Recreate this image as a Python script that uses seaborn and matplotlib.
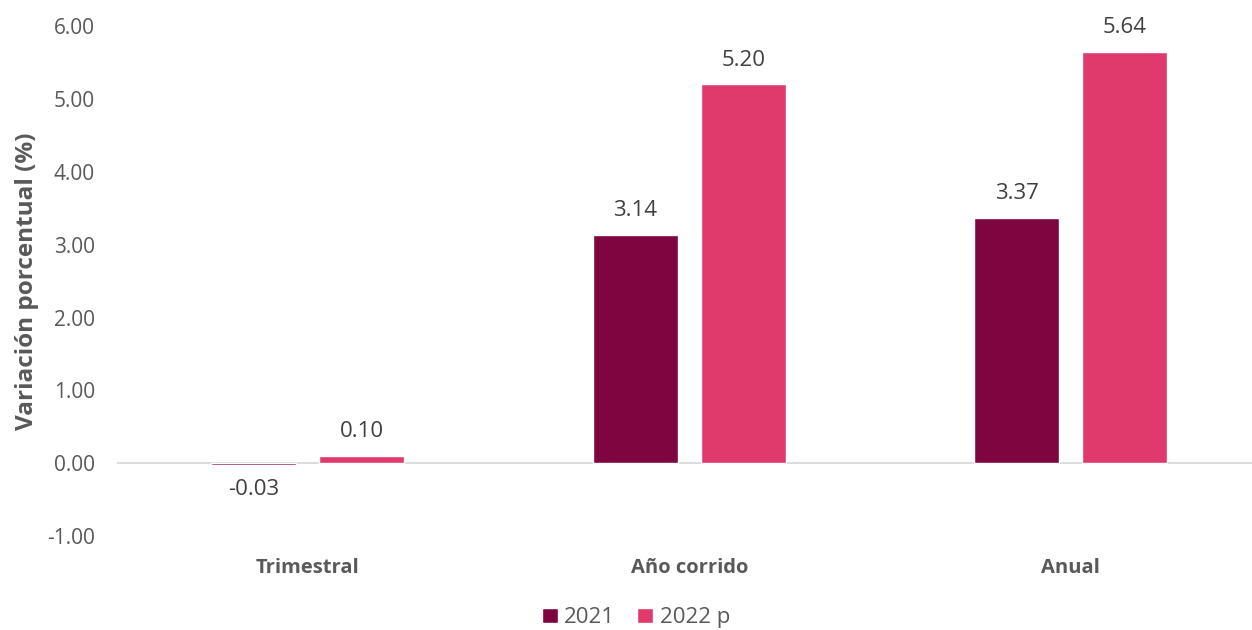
import matplotlib.pyplot as plt
import pandas as pd
import seaborn as sns

# Data
categories = ['Trimestral', 'Año corrido', 'Anual']
series = ['2021', '2022 p']
values_2021 = [-0.03, 3.14, 3.37]
values_2022 = [0.10, 5.20, 5.64]
colors = ['#7E0540', '#E03A6C']

df = pd.DataFrame({
    'categoria': categories * 2,
    'serie': [series[0]] * 3 + [series[1]] * 3,
    'valor': values_2021 + values_2022,
})

sns.set_style('white')
plt.rcParams['font.family'] = ['Open Sans', 'DejaVu Sans']

fig = plt.figure(figsize=(12.52, 6.3), dpi=100)
ax = fig.add_axes([0.0935, 0.149, 0.914, 0.8095])

sns.barplot(data=df, x='categoria', y='valor', hue='serie', order=categories,
            hue_order=series, palette=colors, width=0.566, gap=0.213,
            saturation=1, ax=ax, legend=True)

for cont in ax.containers:
    labels = ['{:.2f}'.format(v) for v in cont.datavalues]
    ax.bar_label(cont, labels=labels, padding=10, fontsize=16, color='#404040')

ax.set_ylim(-1, 6)
ax.set_xlim(-0.5, 2.5)
ax.set_yticks([-1, 0, 1, 2, 3, 4, 5, 6])
ax.set_yticklabels(['{:.2f}'.format(t) for t in ax.get_yticks()])
ax.tick_params(axis='y', labelsize=15, labelcolor='#595959', length=0, pad=16)
ax.tick_params(axis='x', labelsize=14.5, labelcolor='#595959', length=0, pad=16)
for lbl in ax.get_xticklabels():
    lbl.set_fontweight('bold')

ax.axhline(0, color='#D9D9D9', lw=1.3, zorder=0)
for s in ax.spines.values():
    s.set_visible(False)

ax.set_xlabel('')
ax.set_ylabel('Variación porcentual (%)', fontsize=17.5, fontweight='bold',
              color='#595959', labelpad=6)

ax.legend(loc='center', bbox_to_anchor=(0.4535, -0.16), ncol=2,
          frameon=False, fontsize=16, handlelength=0.7, handleheight=0.7,
          handletextpad=0.3, columnspacing=1.0, labelcolor='#595959')

fig.savefig('out.png', dpi=100)
